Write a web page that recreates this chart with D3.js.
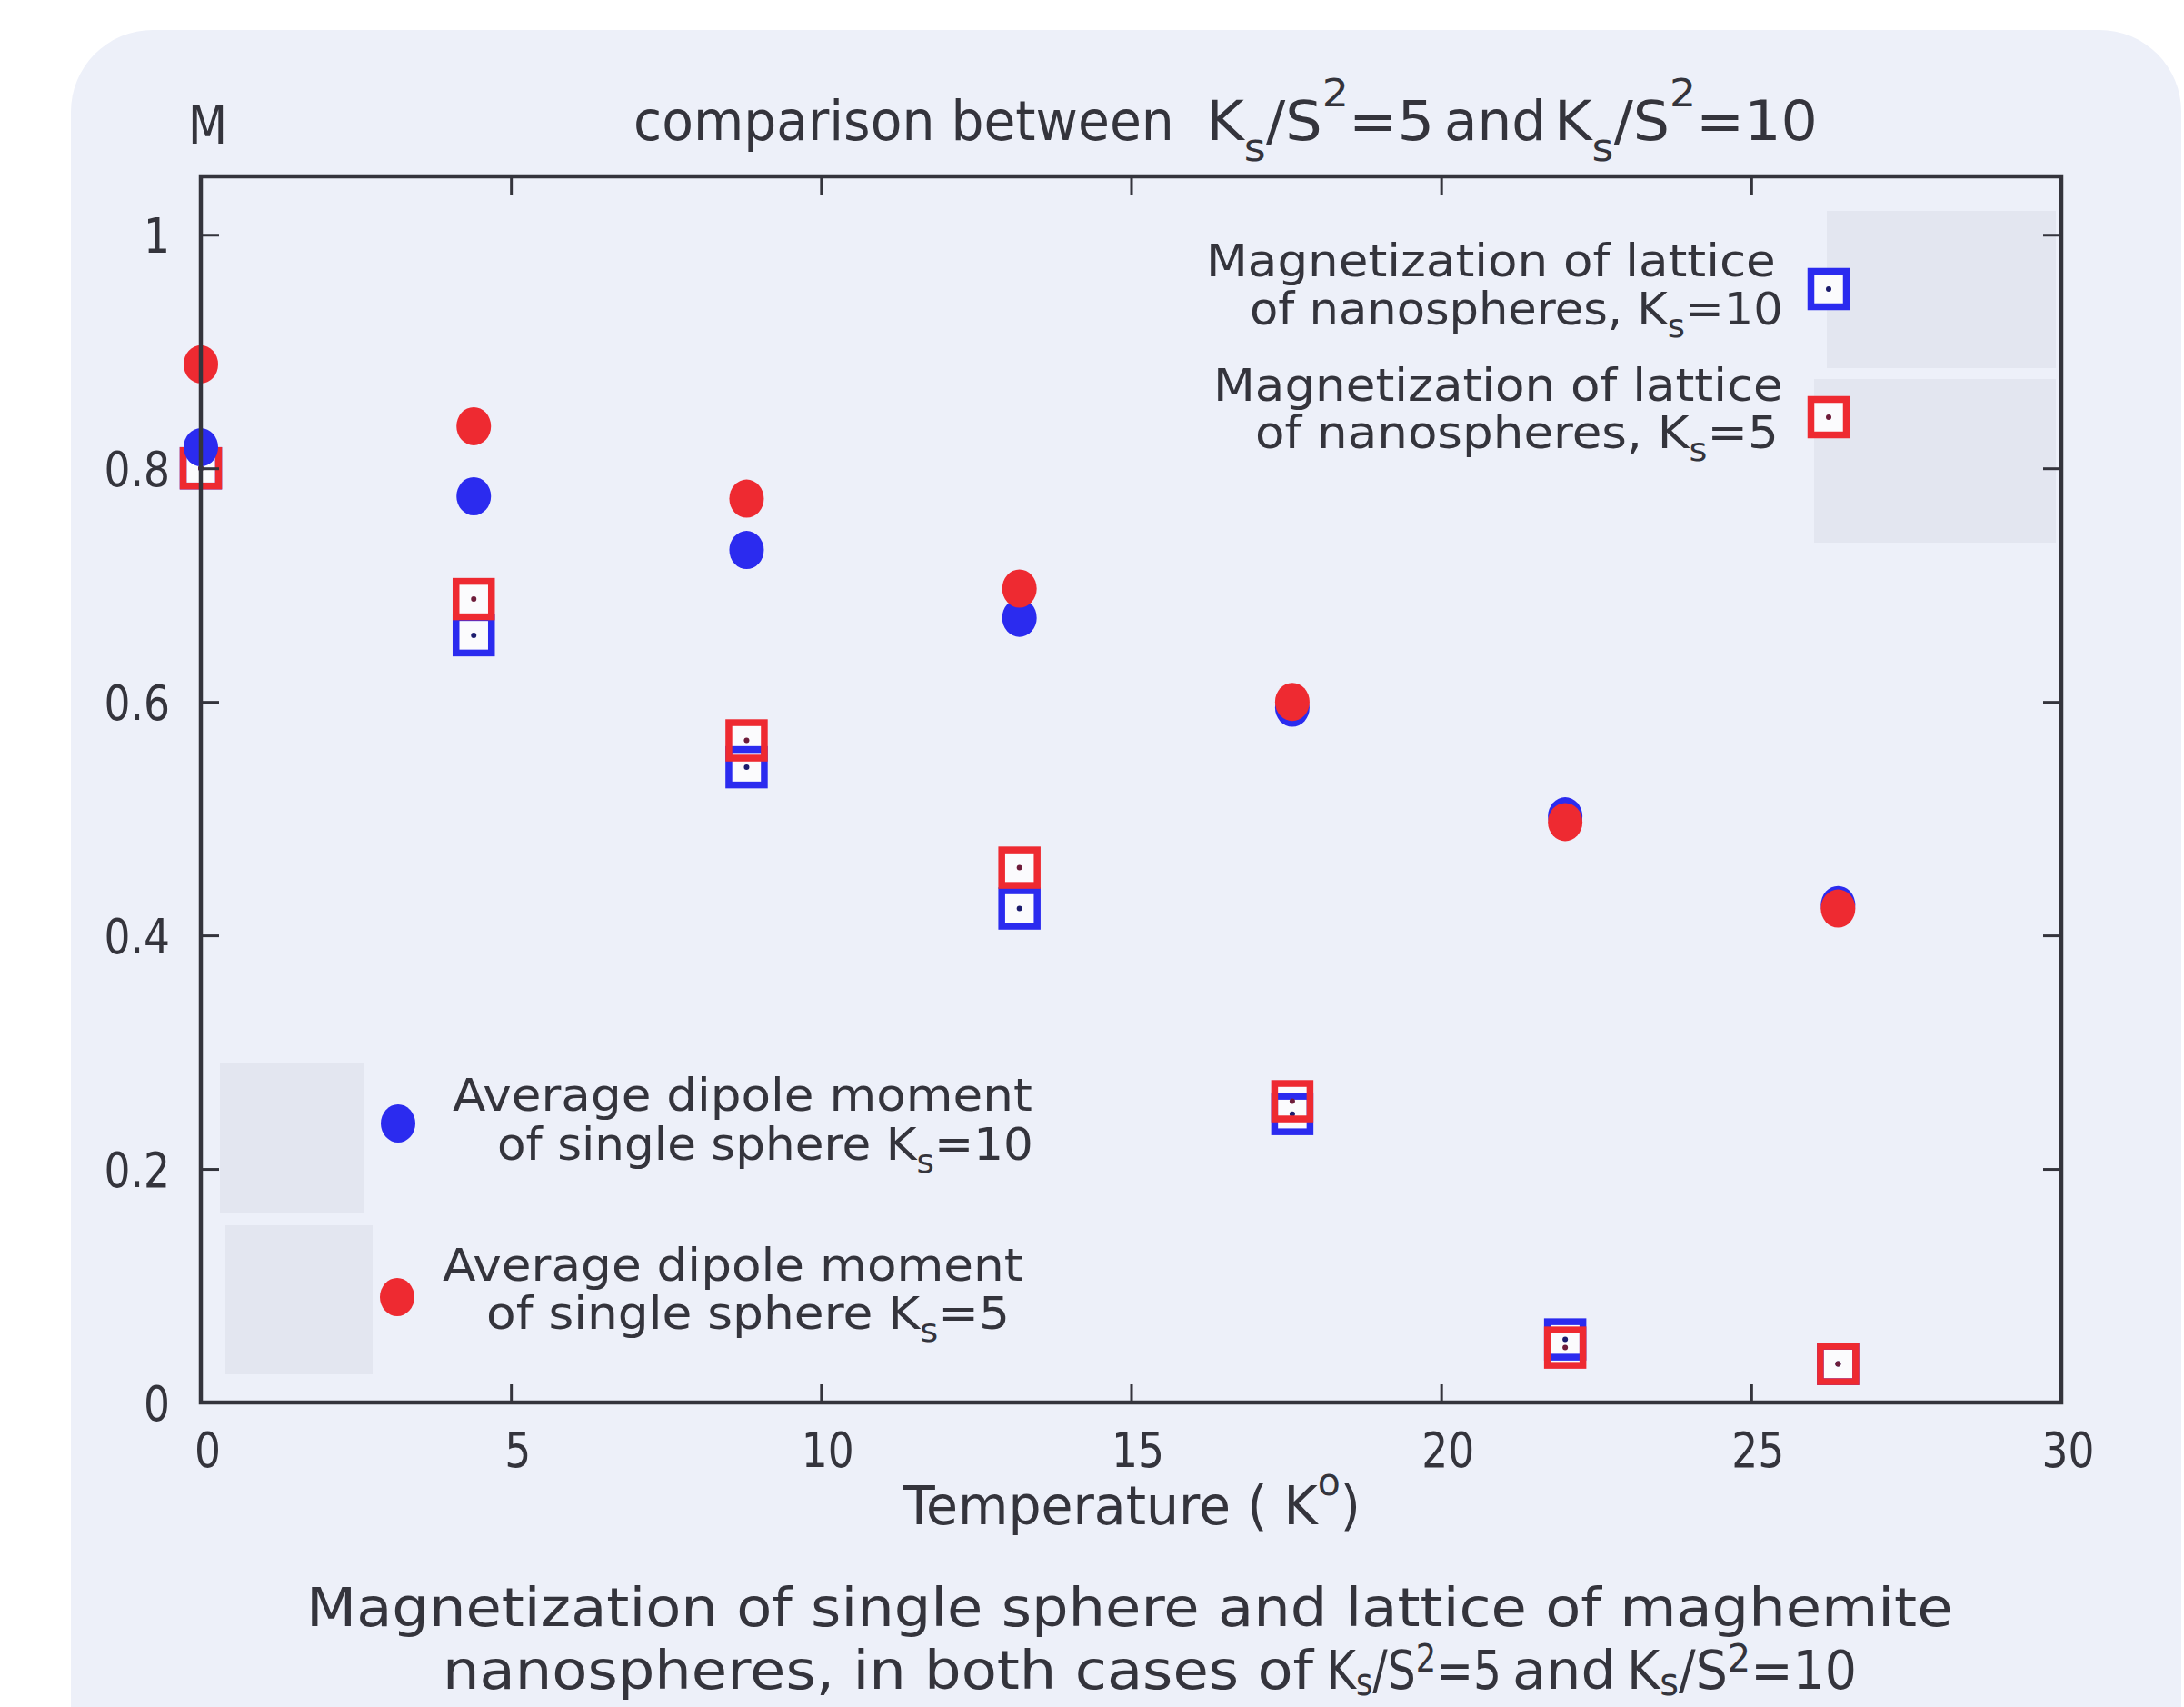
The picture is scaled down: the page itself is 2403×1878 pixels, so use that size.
<!DOCTYPE html>
<html>
<head>
<meta charset="utf-8">
<script src="https://cdn.jsdelivr.net/npm/d3@7"></script>
<style>
  html, body { margin: 0; padding: 0; background: #ffffff; }
  svg { display: block; }
  text { font-family: "DejaVu Sans", sans-serif; fill: #34343c; white-space: pre; }
</style>
</head>
<body>
<svg id="chart" width="2403" height="1878"></svg>
<script>
// Temperature samples (K) and magnetization values for each series
const temperature = [0, 4.4, 8.8, 13.2, 17.6, 22.0, 26.4];
const sphereK10  = [0.818, 0.776, 0.730, 0.672, 0.595, 0.502, 0.426];
const sphereK5   = [0.889, 0.836, 0.774, 0.697, 0.600, 0.497, 0.423];
const latticeK10 = [0.800, 0.657, 0.544, 0.423, 0.247, 0.054, 0.033];
const latticeK5  = [0.800, 0.688, 0.567, 0.458, 0.258, 0.047, 0.033];

const xTickValues = [0, 5, 10, 15, 20, 25, 30];
const yTickValues = [0, 0.2, 0.4, 0.6, 0.8, 1];
const yTickLabels = ["0", "0.2", "0.4", "0.6", "0.8", "1"];

const BLUE = "#2b2bef";
const RED = "#ee2a31";
const BLUE_DOT = "#1c1c6e";
const RED_DOT = "#6e1c3a";
const INK = "#34343c";

const svg = d3.select("#chart");

// plot frame
const plotL = 221, plotR = 2268, plotT = 194, plotB = 1543;
const x = d3.scaleLinear().domain([0, 30]).range([plotL, plotR]);
const y = d3.scaleLinear().domain([0, 1.05]).range([plotB, plotT]);

// rounded panel behind the whole figure
svg.append("rect")
  .attr("x", 78).attr("y", 33)
  .attr("width", 2322).attr("height", 1950)
  .attr("rx", 90).attr("ry", 90)
  .attr("fill", "#edf0f9");

// Text with sub/superscripts, stretched to span [x0, x1] on a given baseline
function richText(parent, parts, x0, x1, baseline, size, subK = 0.38, supK = 0.62) {
  const t = parent.append("text").attr("font-size", size);
  let shift = 0;
  parts.forEach(p => {
    const str = Array.isArray(p) ? p[0] : p;
    const kind = Array.isArray(p) ? p[1] : null;
    const target = kind === "sub" ? subK * size : kind === "sup" ? -supK * size : 0;
    t.append("tspan")
      .attr("dy", target - shift)
      .attr("font-size", kind ? 0.72 * size : size)
      .text(str);
    shift = target;
  });
  const bb = t.node().getBBox();
  const k = (x1 - x0) / bb.width;
  t.attr("transform", `translate(${x0},${baseline}) scale(${k},1) translate(${-bb.x},0)`);
  return t;
}

// shaded key boxes
const keyBoxes = [
  [2010, 232, 2262, 405],
  [1996, 417, 2262, 597],
  [242, 1169, 400, 1334],
  [248, 1348, 410, 1512]
];
svg.append("g").selectAll("rect").data(keyBoxes).join("rect")
  .attr("x", d => d[0]).attr("y", d => d[1])
  .attr("width", d => d[2] - d[0]).attr("height", d => d[3] - d[1])
  .attr("fill", "#e3e6f0");

// markers
const SQ = 39, SQW = 7.5, RX = 19, RY = 21, DOT = 3;
const rows = temperature.map((t, i) => ({
  t, s10: sphereK10[i], s5: sphereK5[i], l10: latticeK10[i], l5: latticeK5[i]
}));

const marks = svg.append("g");

// white interiors of the square markers
marks.append("g").selectAll("rect")
  .data(rows.flatMap(d => [[d.t, d.l10], [d.t, d.l5]]))
  .join("rect")
  .attr("x", d => x(d[0]) - SQ / 2).attr("y", d => y(d[1]) - SQ / 2)
  .attr("width", SQ).attr("height", SQ)
  .attr("fill", "#fbfbfd");

function squares(key, color, dot) {
  const g = marks.append("g");
  g.selectAll("rect").data(rows).join("rect")
    .attr("x", d => x(d.t) - SQ / 2).attr("y", d => y(d[key]) - SQ / 2)
    .attr("width", SQ).attr("height", SQ)
    .attr("fill", "none").attr("stroke", color).attr("stroke-width", SQW);
  g.selectAll("circle").data(rows).join("circle")
    .attr("cx", d => x(d.t)).attr("cy", d => y(d[key]))
    .attr("r", DOT).attr("fill", dot);
}
squares("l10", BLUE, BLUE_DOT);
squares("l5", RED, RED_DOT);

function dots(key, color) {
  marks.append("g").selectAll("ellipse").data(rows).join("ellipse")
    .attr("cx", d => x(d.t)).attr("cy", d => y(d[key]))
    .attr("rx", RX).attr("ry", RY)
    .attr("fill", color);
}
dots("s10", BLUE);
dots("s5", RED);

// axes: inward ticks on all four sides
const TICK = 20;
function styleAxis(g) {
  g.select(".domain").remove();
  g.selectAll(".tick line").attr("stroke", INK).attr("stroke-width", 3);
}

const xAxisBottom = svg.append("g")
  .attr("transform", `translate(0,${plotB})`)
  .call(d3.axisBottom(x).tickValues(xTickValues).tickSize(-TICK).tickFormat(d3.format("d")));
styleAxis(xAxisBottom);
xAxisBottom.selectAll(".tick text")
  .attr("x", null).attr("y", null).attr("dy", null)
  .attr("font-size", 53).attr("fill", INK).attr("text-anchor", "middle")
  .attr("transform", "translate(7,71) scale(0.86,1)");

svg.append("g")
  .attr("transform", `translate(0,${plotT})`)
  .call(d3.axisBottom(x).tickValues(xTickValues).tickSize(TICK).tickFormat(""))
  .call(styleAxis);

const yAxisLeft = svg.append("g")
  .attr("transform", `translate(${plotL},0)`)
  .call(d3.axisLeft(y).tickValues(yTickValues).tickSize(-TICK)
    .tickFormat((d, i) => yTickLabels[i]));
styleAxis(yAxisLeft);
yAxisLeft.selectAll(".tick text")
  .attr("x", null).attr("y", null).attr("dy", null)
  .attr("font-size", 53).attr("fill", INK).attr("text-anchor", "end")
  .attr("transform", "translate(-34,19) scale(0.86,1)");

svg.append("g")
  .attr("transform", `translate(${plotR},0)`)
  .call(d3.axisLeft(y).tickValues(yTickValues).tickSize(TICK).tickFormat(""))
  .call(styleAxis);

// frame
svg.append("rect")
  .attr("x", plotL).attr("y", plotT)
  .attr("width", plotR - plotL).attr("height", plotB - plotT)
  .attr("fill", "none").attr("stroke", INK).attr("stroke-width", 4.5);

// key markers
svg.append("rect").attr("x", 2012 - SQ / 2).attr("y", 318 - SQ / 2)
  .attr("width", SQ).attr("height", SQ)
  .attr("fill", "#fbfbfd").attr("stroke", BLUE).attr("stroke-width", SQW);
svg.append("circle").attr("cx", 2012).attr("cy", 318).attr("r", DOT).attr("fill", BLUE_DOT);
svg.append("rect").attr("x", 2012 - SQ / 2).attr("y", 459 - SQ / 2)
  .attr("width", SQ).attr("height", SQ)
  .attr("fill", "#fbfbfd").attr("stroke", RED).attr("stroke-width", SQW);
svg.append("circle").attr("cx", 2012).attr("cy", 459).attr("r", DOT).attr("fill", RED_DOT);
svg.append("ellipse").attr("cx", 438).attr("cy", 1236).attr("rx", RX).attr("ry", RY).attr("fill", BLUE);
svg.append("ellipse").attr("cx", 437).attr("cy", 1427).attr("rx", RX).attr("ry", RY).attr("fill", RED);

// texts
const txt = svg.append("g");
const LF = 49;
richText(txt, ["Magnetization of lattice"], 1327, 1954, 304, LF);
richText(txt, ["of nanospheres, K", ["s", "sub"], "=10"], 1375, 1962, 357, LF, 0.28);
richText(txt, ["Magnetization of lattice"], 1335, 1962, 441, LF);
richText(txt, ["of nanospheres, K", ["s", "sub"], "=5"], 1381, 1957, 493, LF, 0.28);

richText(txt, ["Average dipole moment"], 498, 1136, 1222, LF);
richText(txt, ["of single sphere K", ["s", "sub"], "=10"], 547, 1137, 1276, LF, 0.28);
richText(txt, ["Average dipole moment"], 487, 1126, 1409, LF);
richText(txt, ["of single sphere K", ["s", "sub"], "=5"], 535, 1111, 1462, LF, 0.28);

// y-axis name and title
richText(txt, ["M"], 207, 250, 158, 58);
const TF = 60;
richText(txt, ["comparison between"], 697, 1292, 154, TF);
richText(txt, ["K", ["s", "sub"], "/S", ["2", "sup"], "=5"], 1327, 1578, 154, TF);
richText(txt, ["and"], 1589, 1701, 154, TF);
richText(txt, ["K", ["s", "sub"], "/S", ["2", "sup"], "=10"], 1710, 2000, 154, TF);

// x-axis name
richText(txt, ["Temperature ( K", ["o", "sup"], ")"], 993, 1497, 1677, 58, 0.38, 0.55);

// caption
const CF = 58;
richText(txt, ["Magnetization of single sphere and lattice of maghemite"], 337, 2149, 1789, CF);
richText(txt, ["nanospheres, in both cases of"], 487, 1447, 1858, CF);
richText(txt, ["K", ["s", "sub"], "/S", ["2", "sup"], "=5"], 1460, 1652, 1858, CF, 0.12, 0.32);
richText(txt, ["and"], 1664, 1778, 1858, CF);
richText(txt, ["K", ["s", "sub"], "/S", ["2", "sup"], "=10"], 1790, 2043, 1858, CF, 0.12, 0.32);
</script>
</body>
</html>
